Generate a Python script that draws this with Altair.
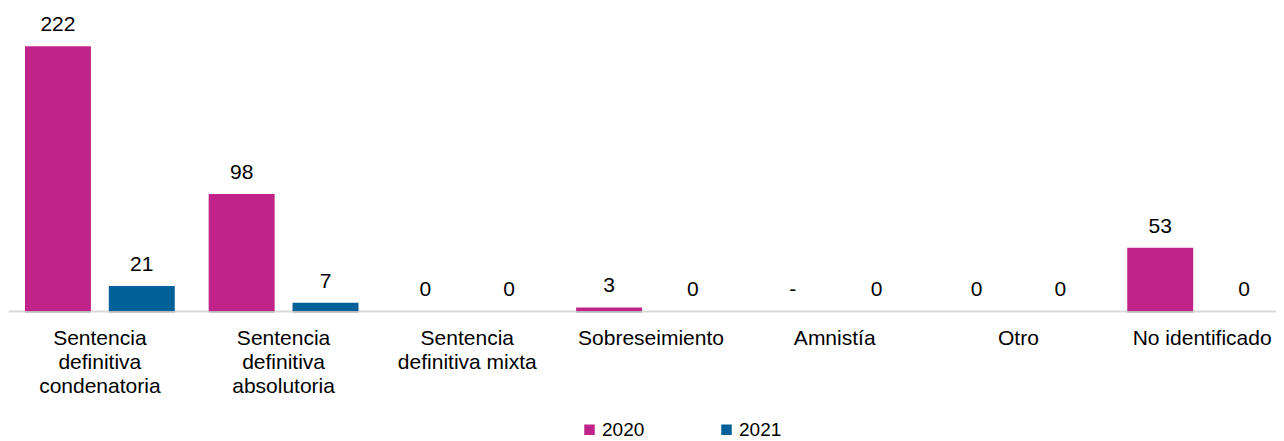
import altair as alt
import pandas as pd

categories = [
    "Sentencia|definitiva|condenatoria",
    "Sentencia|definitiva|absolutoria",
    "Sentencia|definitiva mixta",
    "Sobreseimiento",
    "Amnistía",
    "Otro",
    "No identificado",
]
series = ["2020", "2021"]
values_2020 = [222, 98, 0, 3, None, 0, 53]
values_2021 = [21, 7, 0, 0, 0, 0, 0]
colors = ["#C0248A", "#006098"]

rows = []
for s, vals in zip(series, [values_2020, values_2021]):
    for c, v in zip(categories, vals):
        rows.append({
            "cat": c,
            "serie": s,
            "v": 0 if v is None else v,
            "label": "-" if v is None else str(v),
        })
df = pd.DataFrame(rows)

FONT = "Liberation Sans"

x = alt.X(
    "cat:N",
    sort=categories,
    scale=alt.Scale(paddingInner=0.185, paddingOuter=0.0925, range=[0, 1286]),
    axis=alt.Axis(
        title=None,
        labelExpr="split(datum.label, '|')",
        labelAngle=0,
        ticks=False,
        domainColor="#d9d9d9",
        domainWidth=2,
        labelFontSize=21,
        labelLineHeight=24,
        labelPadding=16,
        labelFont=FONT,
        labelColor="#000000",
        labelLimit=400,
    ),
)
xo = alt.XOffset("serie:N", sort=series, scale=alt.Scale(paddingInner=0.214, paddingOuter=0))
y = alt.Y("v:Q", scale=alt.Scale(domain=[0, 254]), axis=None)

shadow = alt.Chart(df).mark_bar(color="#000000", opacity=0.15, xOffset=4, yOffset=2).encode(
    x=x, xOffset=xo, y=y
)

bars = alt.Chart(df).mark_bar().encode(
    x=x,
    xOffset=xo,
    y=y,
    color=alt.Color(
        "serie:N",
        scale=alt.Scale(domain=series, range=colors),
        legend=alt.Legend(
            title=None,
            orient="none",
            legendX=572,
            legendY=412,
            direction="horizontal",
            symbolType="square",
            symbolSize=110,
            symbolStrokeWidth=0,
            symbolOpacity=1,
            labelFontSize=19,
            labelFont=FONT,
            labelColor="#000000",
            labelOffset=3,
            columnPadding=72,
        ),
    ),
)

text = alt.Chart(df).mark_text(
    baseline="alphabetic", dy=-15, fontSize=21, font=FONT, color="#000000"
).encode(x=x, xOffset=xo, y=y, text="label:N")

chart = (
    alt.layer(shadow, bars, text)
    .properties(
        width=1268,
        height=303,
        padding={"left": 0, "top": 0, "right": 0, "bottom": 130},
        autosize=alt.AutoSizeParams(type="none"),
    )
    .configure_view(stroke=None)
)

chart.save("out.html", embed_options={"renderer": "svg", "actions": False})
